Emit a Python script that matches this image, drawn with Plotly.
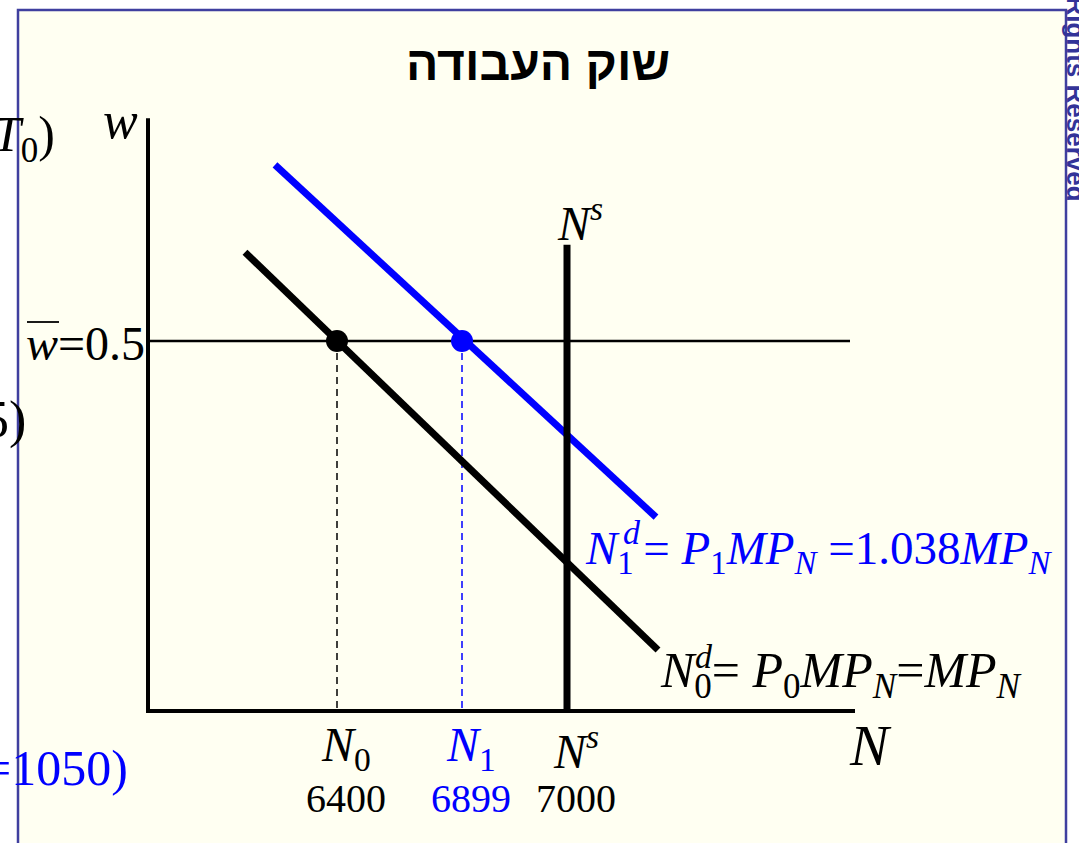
import plotly.graph_objects as go

# ---------------- data (schematic diagram units) ----------------
N_labels = ["6400", "6899", "7000"]
N_names = ["<i>N</i><sub>0</sub>", "<i>N</i><sub>1</sub>", "<i>N<sup>s</sup></i>"]
N_colors = ["black", "#0000FF", "black"]
N_pos = [3.78, 6.28, 8.38]          # N0, N1, Ns positions on the schematic axis
w_bar = 0.5
Nd0_x = [1.94, 10.20]
Nd0_y = [0.620, 0.0824]
Nd1_x = [2.54, 10.16]
Nd1_y = [0.738, 0.262]
Ns_top = 0.630
x_axis_end = 14.14
y_axis_end = 0.801
w_line_end = 14.04

# ---------------- layout helpers ----------------
W, H = 1079, 843
OX, OY = 148, 711        # pixel position of origin
SX, SY = 50.0, 740.0     # pixels per unit


def px2x(p):
    return (p - OX) / SX


def py2y(p):
    return (OY - p) / SY


SERIF = "Liberation Serif, Times New Roman, serif"
SANS = "Liberation Sans, Arial, DejaVu Sans"
BLUE = "#0000FF"
THIN = "\u2009"

fig = go.Figure()

# wage line
fig.add_trace(go.Scatter(x=[0, w_line_end], y=[w_bar, w_bar], mode="lines",
                         line=dict(color="black", width=2.5), hoverinfo="skip"))
# dashed drops
fig.add_trace(go.Scatter(x=[N_pos[0], N_pos[0]], y=[w_bar, 0], mode="lines",
                         line=dict(color="black", width=1.5, dash="7px,5px"), hoverinfo="skip"))
fig.add_trace(go.Scatter(x=[N_pos[1], N_pos[1]], y=[w_bar, 0], mode="lines",
                         line=dict(color=BLUE, width=1.5, dash="7px,5px"), hoverinfo="skip"))
# demand curves
fig.add_trace(go.Scatter(x=Nd0_x, y=Nd0_y, mode="lines",
                         line=dict(color="black", width=7), hoverinfo="skip"))
fig.add_trace(go.Scatter(x=Nd1_x, y=Nd1_y, mode="lines",
                         line=dict(color=BLUE, width=7), hoverinfo="skip"))
# supply
fig.add_trace(go.Scatter(x=[N_pos[2], N_pos[2]], y=[0, Ns_top], mode="lines",
                         line=dict(color="black", width=7), hoverinfo="skip"))
# axes
fig.add_trace(go.Scatter(x=[0, 0, x_axis_end], y=[y_axis_end, 0, 0], mode="lines",
                         line=dict(color="black", width=4), hoverinfo="skip"))
# equilibrium dots
fig.add_trace(go.Scatter(x=[N_pos[0], N_pos[1]], y=[w_bar, w_bar], mode="markers",
                         marker=dict(size=22, color=["black", BLUE]), hoverinfo="skip"))

ann = []


def A(text, xp, yp, size, color="black", xanchor="center", yanchor="middle", family=SERIF, **kw):
    ann.append(dict(text=text, x=px2x(xp), y=py2y(yp), xref="x", yref="y",
                    showarrow=False, xanchor=xanchor, yanchor=yanchor,
                    font=dict(family=family, size=size, color=color), **kw))


# axis labels
A("<i>w</i>", 120, 120, 52)
A("<i>N</i>", 870, 745, 58)
A("<i>N<sup>s</sup></i>", 580, 220, 48)

# tick names and values
for name, lab, pos, col in zip(N_names, N_labels, N_pos, N_colors):
    ann.append(dict(text=name, x=pos, y=py2y(748), xref="x", yref="y", xshift=9,
                    showarrow=False, xanchor="center", yanchor="middle",
                    font=dict(family=SERIF, size=48, color=col)))
    ann.append(dict(text=lab, x=pos, y=py2y(798), xref="x", yref="y", xshift=9,
                    showarrow=False, xanchor="center", yanchor="middle",
                    font=dict(family=SERIF, size=40, color=col)))

# wage label
A("<i>w</i>=0.5", 147, 343, 48, xanchor="right")

# demand labels
A("<i>N</i><sub>0</sub>= <i>P</i><sub>0</sub><i>MP</i><sub><i>N</i></sub>=<i>MP</i><sub><i>N</i></sub>",
  658, 674, 50, xanchor="left")
A("<i>d</i>", 704, 656, 34, xanchor="center")
A("<i>N</i><sub>1</sub>" + THIN + "= <i>P</i><sub>1</sub><i>MP</i><sub><i>N</i></sub> =1.038<i>MP</i><sub><i>N</i></sub>",
  583, 551, 47, color=BLUE, xanchor="left")
A("<i>d</i>", 632, 532, 34, color=BLUE, xanchor="center")

# partial texts at the left edge
A("<i>T</i><sub>0</sub>)", 57, 138, 50, xanchor="right")
A("5)", 28, 420, 52, xanchor="right")
A("=1050)", 130, 768, 50, color=BLUE, xanchor="right")

# title
ann.append(dict(text="<b>שוק העבודה</b>", x=538 / W, y=1 - 64 / H, xref="paper", yref="paper",
                showarrow=False, xanchor="center", yanchor="middle",
                font=dict(family=SANS, size=48, color="black")))
# rotated copyright text on the right edge
ann.append(dict(text="<b>All Rights Reserved</b>", x=1076 / W, y=1 - 204 / H, xref="paper", yref="paper",
                showarrow=False, xanchor="center", yanchor="bottom", textangle=90,
                font=dict(family=SANS, size=26, color="#333399")))

shapes = [
    dict(type="rect", xref="paper", yref="paper", x0=18 / W, x1=1066 / W, y0=-0.2, y1=1 - 10 / H,
         fillcolor="#FFFFF2", line=dict(color="#3F3F9F", width=2.5), layer="below"),
    # overline on w
    dict(type="line", xref="x", yref="y", x0=px2x(27), x1=px2x(59), y0=py2y(322), y1=py2y(322),
         line=dict(color="black", width=1.8)),
]

fig.update_layout(
    width=W, height=H,
    margin=dict(l=0, r=0, t=0, b=0),
    paper_bgcolor="white", plot_bgcolor="rgba(0,0,0,0)",
    showlegend=False,
    xaxis=dict(range=[px2x(0), px2x(W)], visible=False, fixedrange=True),
    yaxis=dict(range=[py2y(H), py2y(0)], visible=False, fixedrange=True),
    annotations=ann, shapes=shapes,
)

fig.write_html("out.html", config={"displayModeBar": False},
               post_script="document.body.style.margin='0';document.body.style.overflow='hidden';")
